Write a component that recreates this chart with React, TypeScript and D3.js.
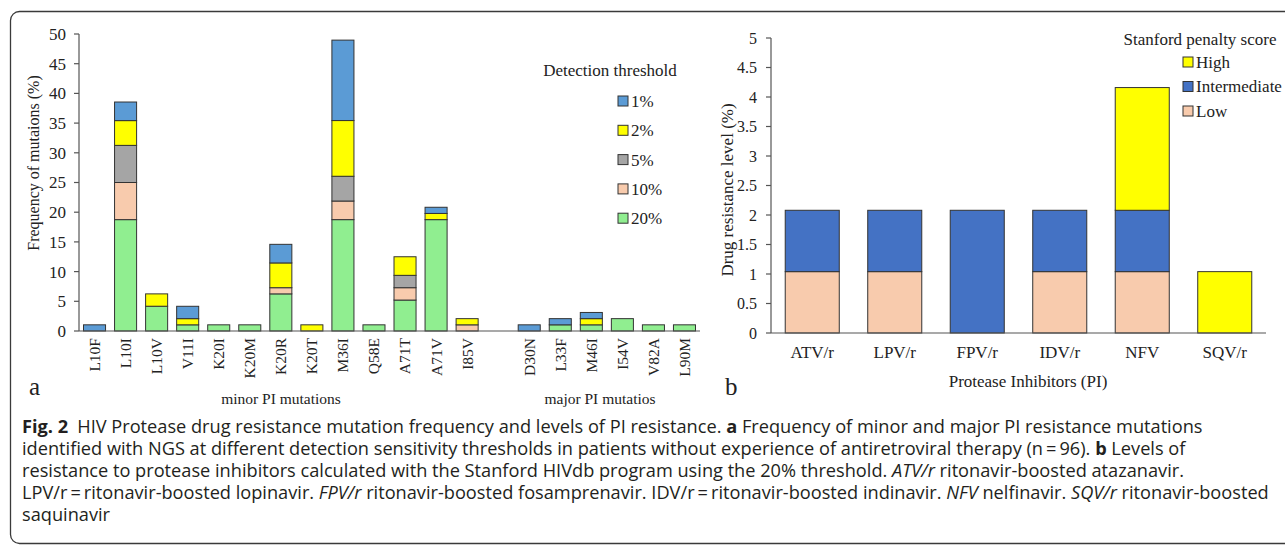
import React from "react";
import * as d3 from "d3";

// ---------- Data: panel a ----------
const minorMutations = ["L10F", "L10I", "L10V", "V11I", "K20I", "K20M", "K20R", "K20T", "M36I", "Q58E", "A71T", "A71V", "I85V"];
const majorMutations = ["D30N", "L33F", "M46I", "I54V", "V82A", "L90M"];
const thresholdKeys = ["20%", "10%", "5%", "2%", "1%"]; // stacked bottom -> top
const legendThresholds = ["1%", "2%", "5%", "10%", "20%"];
// segment values (%), minor then major
const freq20 = [0, 18.75, 4.17, 1.04, 1.04, 1.04, 6.25, 0, 18.75, 1.04, 5.21, 18.75, 0, 0, 1.04, 1.04, 2.08, 1.04, 1.04];
const freq10 = [0, 6.25, 0, 0, 0, 0, 1.04, 0, 3.13, 0, 2.08, 0, 1.04, 0, 0, 0, 0, 0, 0];
const freq5 = [0, 6.25, 0, 0, 0, 0, 0, 0, 4.17, 0, 2.08, 0, 0, 0, 0, 0, 0, 0, 0];
const freq2 = [0, 4.17, 2.08, 1.04, 0, 0, 4.17, 1.04, 9.38, 0, 3.13, 1.04, 1.04, 0, 0, 1.04, 0, 0, 0];
const freq1 = [1.04, 3.13, 0, 2.08, 0, 0, 3.13, 0, 13.54, 0, 0, 1.04, 0, 1.04, 1.04, 1.04, 0, 0, 0];
const freqTicks = [0, 5, 10, 15, 20, 25, 30, 35, 40, 45, 50];

// ---------- Data: panel b ----------
const drugs = ["ATV/r", "LPV/r", "FPV/r", "IDV/r", "NFV", "SQV/r"];
const scoreKeys = ["Low", "Intermediate", "High"]; // stacked bottom -> top
const legendScores = ["High", "Intermediate", "Low"];
const lowLevel = [1.04, 1.04, 0, 1.04, 1.04, 0];
const intermediateLevel = [1.04, 1.04, 2.08, 1.04, 1.04, 0];
const highLevel = [0, 0, 0, 0, 2.08, 1.04];
const levelTicks = [0, 0.5, 1, 1.5, 2, 2.5, 3, 3.5, 4, 4.5, 5];

const thresholdColors: Record<string, string> = {
  "1%": "#5b9bd5",
  "2%": "#ffff00",
  "5%": "#a5a5a5",
  "10%": "#f8cbad",
  "20%": "#90ee90",
};
const scoreColors: Record<string, string> = {
  High: "#ffff00",
  Intermediate: "#4472c4",
  Low: "#f8cbad",
};

const SERIF = "'Times New Roman', 'Liberation Serif', serif";
const SANS = "'Open Sans', 'Noto Sans', sans-serif";
const INK = "#231f20";
const AXIS = "#555";

export default function App() {
  // ---- panel a scales ----
  const gapKey = "__gap__";
  const cats = [...minorMutations, gapKey, ...majorMutations];
  const muts = [...minorMutations, ...majorMutations];
  const xA = d3.scaleBand<string>().domain(cats).range([79, 700]).paddingInner(0.29).paddingOuter(0.145);
  const yA = d3.scaleLinear().domain([0, 50]).range([331, 34]);
  const rowsA = muts.map((m, i) => ({
    mut: m,
    "20%": freq20[i],
    "10%": freq10[i],
    "5%": freq5[i],
    "2%": freq2[i],
    "1%": freq1[i],
  }));
  const stackA = d3.stack<any>().keys(thresholdKeys)(rowsA);

  // ---- panel b scales ----
  const xB = d3.scaleBand<string>().domain(drugs).range([771, 1266]).paddingInner(0.345).paddingOuter(0.1725);
  const yB = d3.scaleLinear().domain([0, 5]).range([333, 38]);
  const rowsB = drugs.map((d, i) => ({ drug: d, Low: lowLevel[i], Intermediate: intermediateLevel[i], High: highLevel[i] }));
  const stackB = d3.stack<any>().keys(scoreKeys)(rowsB);

  const captionLines: { t: string; s?: "b" | "i" }[][] = [
    [
      { t: "Fig. 2", s: "b" },
      { t: "\u2002HIV Protease drug resistance mutation frequency and levels of PI resistance. " },
      { t: "a", s: "b" },
      { t: " Frequency of minor and major PI resistance mutations" },
    ],
    [
      { t: "identified with NGS at different detection sensitivity thresholds in patients without experience of antiretroviral therapy (n\u2009=\u200996). " },
      { t: "b", s: "b" },
      { t: " Levels of" },
    ],
    [
      { t: "resistance to protease inhibitors calculated with the Stanford HIVdb program using the 20% threshold. " },
      { t: "ATV/r", s: "i" },
      { t: " ritonavir-boosted atazanavir." },
    ],
    [
      { t: "LPV/r\u2009=\u2009ritonavir-boosted lopinavir. " },
      { t: "FPV/r", s: "i" },
      { t: " ritonavir-boosted fosamprenavir. IDV/r\u2009=\u2009ritonavir-boosted indinavir. " },
      { t: "NFV", s: "i" },
      { t: " nelfinavir. " },
      { t: "SQV/r", s: "i" },
      { t: " ritonavir-boosted" },
    ],
    [{ t: "saquinavir" }],
  ];
  const captionY = [433, 455, 477, 499, 521];

  return (
    <svg
      width={1285}
      height={550}
      style={{ position: "absolute", left: 0, top: 0, background: "#fff" }}
      xmlns="http://www.w3.org/2000/svg"
    >
      <rect x={0} y={0} width={1285} height={550} fill="#fff" />
      {/* frame */}
      <rect x={10.5} y={11.5} width={1300} height={532} rx={9} fill="none" stroke="#3a3a3a" strokeWidth={1.3} />

      {/* ================= Panel a ================= */}
      <g fontFamily={SERIF} fill="#222">
        {stackA.map((layer) => (
          <g key={layer.key}>
            {layer.map((seg, i) =>
              seg[1] - seg[0] > 0 ? (
                <rect
                  key={muts[i]}
                  x={xA(muts[i])}
                  y={yA(seg[1])}
                  width={xA.bandwidth()}
                  height={yA(seg[0]) - yA(seg[1])}
                  fill={thresholdColors[layer.key as string]}
                  stroke="#333"
                  strokeWidth={1}
                />
              ) : null
            )}
          </g>
        ))}
        <line x1={79} x2={79} y1={yA(50)} y2={yA(0)} stroke={AXIS} strokeWidth={1.2} />
        <line x1={79} x2={700} y1={yA(0)} y2={yA(0)} stroke={AXIS} strokeWidth={1.2} />
        {freqTicks.map((t) => (
          <g key={t}>
            <line x1={74} x2={79} y1={yA(t)} y2={yA(t)} stroke={AXIS} strokeWidth={1.2} />
            <text x={66} y={yA(t)} dy="0.35em" textAnchor="end" fontSize={17}>
              {t}
            </text>
          </g>
        ))}
        {muts.map((m) => (
          <text
            key={m}
            transform={`translate(${(xA(m) as number) + xA.bandwidth() / 2},338) rotate(-90)`}
            dy="0.35em"
            textAnchor="end"
            fontSize={15.5}
          >
            {m}
          </text>
        ))}
        <text transform="translate(33,163) rotate(-90)" dy="0.35em" textAnchor="middle" fontSize={16}>
          Frequency of mutaions (%)
        </text>
        <text x={281} y={404} textAnchor="middle" fontSize={15.5}>
          minor PI mutations
        </text>
        <text x={600} y={404} textAnchor="middle" fontSize={15.5}>
          major PI mutatios
        </text>
        <text x={29} y={395} fontSize={25}>
          a
        </text>
        <text x={610} y={76} textAnchor="middle" fontSize={17}>
          Detection threshold
        </text>
        {legendThresholds.map((k, i) => {
          const cy = 101 + i * 29.3;
          return (
            <g key={k}>
              <rect x={618} y={cy - 5} width={10} height={10} fill={thresholdColors[k]} stroke="#333" strokeWidth={1} />
              <text x={631} y={cy} dy="0.35em" fontSize={17}>
                {k}
              </text>
            </g>
          );
        })}
      </g>

      {/* ================= Panel b ================= */}
      <g fontFamily={SERIF} fill="#222">
        {stackB.map((layer) => (
          <g key={layer.key}>
            {layer.map((seg, i) =>
              seg[1] - seg[0] > 0 ? (
                <rect
                  key={drugs[i]}
                  x={xB(drugs[i])}
                  y={yB(seg[1])}
                  width={xB.bandwidth()}
                  height={yB(seg[0]) - yB(seg[1])}
                  fill={scoreColors[layer.key as string]}
                  stroke="#333"
                  strokeWidth={1}
                />
              ) : null
            )}
          </g>
        ))}
        <line x1={771} x2={771} y1={yB(5)} y2={yB(0)} stroke={AXIS} strokeWidth={1.2} />
        <line x1={771} x2={1266} y1={yB(0)} y2={yB(0)} stroke={AXIS} strokeWidth={1.2} />
        {levelTicks.map((t) => (
          <g key={t}>
            <line x1={766} x2={771} y1={yB(t)} y2={yB(t)} stroke={AXIS} strokeWidth={1.2} />
            <text x={757} y={yB(t)} dy="0.35em" textAnchor="end" fontSize={16}>
              {String(t)}
            </text>
          </g>
        ))}
        {drugs.map((d) => (
          <text key={d} x={(xB(d) as number) + xB.bandwidth() / 2} y={358} textAnchor="middle" fontSize={17}>
            {d}
          </text>
        ))}
        <text transform="translate(727,190) rotate(-90)" dy="0.35em" textAnchor="middle" fontSize={17}>
          Drug resistance level (%)
        </text>
        <text x={1028} y={387} textAnchor="middle" fontSize={17}>
          Protease Inhibitors (PI)
        </text>
        <text x={725} y={395} fontSize={25}>
          b
        </text>
        <text x={1200} y={45} textAnchor="middle" fontSize={17}>
          Stanford penalty score
        </text>
        {legendScores.map((k, i) => {
          const cy = 62 + i * 24.5;
          return (
            <g key={k}>
              <rect x={1183} y={cy - 5} width={10} height={10} fill={scoreColors[k]} stroke="#333" strokeWidth={1} />
              <text x={1196} y={cy} dy="0.35em" fontSize={17}>
                {k}
              </text>
            </g>
          );
        })}
      </g>

      {/* ================= Caption ================= */}
      <g fontFamily={SANS} fontSize={18.2} fill={INK}>
        {captionLines.map((line, li) => (
          <text key={li} x={22} y={captionY[li]} xmlSpace="preserve" style={{ whiteSpace: "pre" }}>
            {line.map((p, pi) => (
              <tspan
                key={pi}
                fontWeight={p.s === "b" ? 700 : 400}
                fontStyle={p.s === "i" ? "italic" : "normal"}
              >
                {p.t}
              </tspan>
            ))}
          </text>
        ))}
      </g>
    </svg>
  );
}
